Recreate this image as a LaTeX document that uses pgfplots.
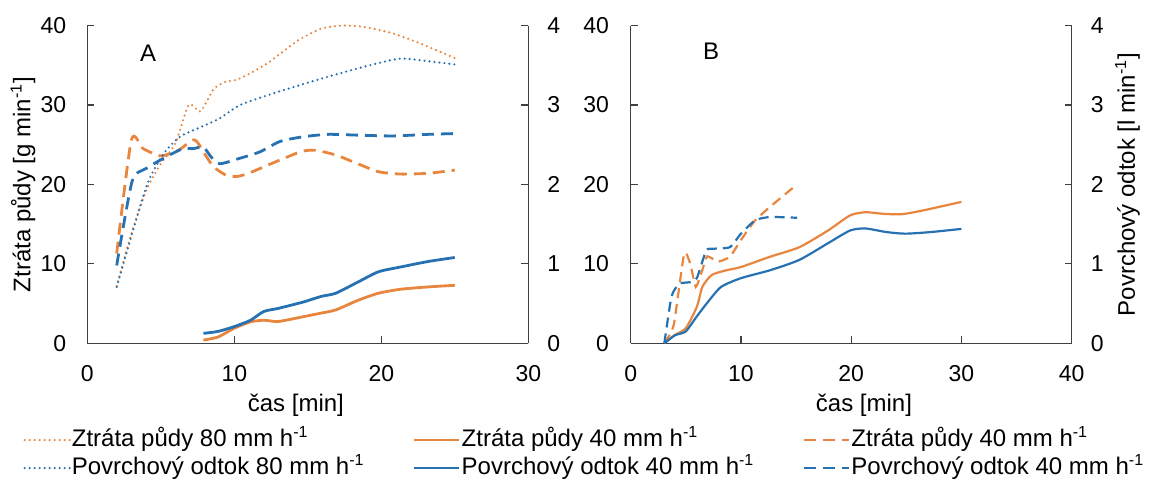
\documentclass[border=0pt]{standalone}
\usepackage{fontspec}
\setmainfont{Liberation Sans}
\usepackage{pgfplots}
\pgfplotsset{compat=1.18}
\definecolor{cor}{RGB}{232,133,62}
\definecolor{cbl}{RGB}{38,113,178}
\pgfplotsset{
  every axis/.append style={
    scale only axis, width=220.5pt, height=158.9pt,
    anchor=south west,
    axis line style={black!75, line width=0.6pt},
    tick style={black!75, line width=0.6pt},
    tick align=inside, major tick length=3.5pt,
    /pgf/number format/assume math mode=true,
    ticklabel style={font=\fontsize{11.5}{13}\selectfont},
    label style={font=\fontsize{12}{14}\selectfont},
    ymin=0,
  },
  sdot/.style={line width=1.2pt, line cap=round, dash pattern=on 0pt off 2.5pt},
  sdashA/.style={line width=1.4pt, dash pattern=on 6pt off 3.5pt},
  sdashB/.style={line width=1.1pt, dash pattern=on 5pt off 3pt},
  ssolA/.style={line width=1.4pt},
  ssolB/.style={line width=1.1pt},
}
\begin{document}
\begin{tikzpicture}
\useasboundingbox (0pt,0pt) rectangle (576pt,242pt);
% ---------------- Panel A, left axis ----------------
\begin{axis}[
  at={(43.65pt,70.35pt)},
  xmin=0, xmax=30, ymax=40,
  xtick={0,10,20,30}, ytick={0,10,20,30,40},
  axis x line*=bottom, axis y line*=left,
  clip=false,
  xticklabel style={yshift=-7.3pt},
  yticklabel style={xshift=-7pt},
  ylabel={Ztráta půdy [g min\textsuperscript{-1}]},
  ylabel style={at={(axis description cs:-0.146,0.5)}, anchor=center},
  xlabel={čas [min]},
  xlabel style={at={(axis description cs:0.473,-0.194)}, anchor=center},
  legend columns=3,
  legend style={at={(axis description cs:-0.1447,-0.2605)}, anchor=north west,
    draw=none, fill=none, inner sep=0pt, outer sep=0pt, row sep=0pt, column sep=0pt,
    nodes={inner xsep=0.5pt, inner ysep=0.75pt, text height=9.5pt, text depth=3pt,
      font=\fontsize{12}{14}\selectfont},
    cells={anchor=west}},
  legend image code/.code={\draw[#1] (0pt,0pt) -- (22.5pt,0pt);},
]
\addlegendimage{cor, sdot}
\addlegendentry{\makebox[170pt][l]{Ztráta půdy 80 mm h\textsuperscript{-1}}}
\addlegendimage{cor, ssolA}
\addlegendentry{\makebox[170pt][l]{Ztráta půdy 40 mm h\textsuperscript{-1}}}
\addlegendimage{cor, sdashA}
\addlegendentry{Ztráta půdy 40 mm h\textsuperscript{-1}}
\addlegendimage{cbl, sdot}
\addlegendentry{\makebox[170pt][l]{Povrchový odtok 80 mm h\textsuperscript{-1}}}
\addlegendimage{cbl, ssolA}
\addlegendentry{\makebox[170pt][l]{Povrchový odtok 40 mm h\textsuperscript{-1}}}
\addlegendimage{cbl, sdashA}
\addlegendentry{Povrchový odtok 40 mm h\textsuperscript{-1}}
% orange dotted: soil loss 80
\addplot[forget plot, cor, sdot, smooth, tension=0.4] coordinates {
(2,7.2)(3,13.8)(4,19.2)(5,22.6)(6,25.2)(6.9,30)(7.7,29.2)(8.6,32)(9.4,32.9)(10.2,33.2)
(11.2,34.1)(12.3,35.3)(13.3,36.7)(14.4,38.2)(15.9,39.6)(17.4,40)(18.9,39.8)(20.8,39)(22.7,37.7)(25,35.9)};
% orange dashed: soil loss 40 (second)
\addplot[forget plot, cor, sdashA, smooth, tension=0.4] coordinates {
(2,11.3)(3,25.6)(3.8,24.5)(5,23.6)(6.2,24.3)(7.3,25.6)(8.1,23.5)(8.6,22.2)(9.4,21.2)(10.2,21)
(11.1,21.5)(12.5,22.6)(14.5,24.1)(15.5,24.3)(16.9,23.7)(18.4,22.6)(19.8,21.6)(21.3,21.3)(23.2,21.4)(25,21.8)};
% orange solid: soil loss 40
\addplot[forget plot, cor, ssolA, smooth, tension=0.4] coordinates {
(7.9,0.4)(8.9,0.8)(10,1.9)(11.1,2.7)(12,2.9)(13,2.75)(14.7,3.35)(15.9,3.8)(16.9,4.2)
(18.4,5.4)(19.8,6.3)(21.3,6.8)(23.2,7.1)(25,7.3)};
\node[font=\fontsize{12}{14}\selectfont] at (axis cs:4.13,36.5) {A};
\end{axis}
% ---------------- Panel A, right axis ----------------
\begin{axis}[
  at={(43.65pt,70.35pt)},
  xmin=0, xmax=30, ymax=4,
  ytick={0,1,2,3,4},
  axis x line=none, axis y line*=right,
  clip=false,
  yticklabel style={xshift=6pt},
]
\addplot[forget plot, cbl, sdot, smooth, tension=0.4] coordinates {
(2,0.71)(3,1.35)(3.8,1.85)(4.3,2.1)(5.2,2.39)(6.3,2.6)(7.7,2.72)(9,2.83)(10.4,3.0)
(12.9,3.16)(15.9,3.33)(18.4,3.46)(20.8,3.57)(21.8,3.58)(25,3.51)};
\addplot[forget plot, cbl, sdashA, smooth, tension=0.4] coordinates {
(2,0.98)(3.05,2.04)(4,2.2)(5.4,2.35)(6.5,2.45)(7.2,2.45)(7.9,2.47)(8.4,2.35)(9,2.26)
(10.4,2.33)(11.75,2.41)(13.1,2.54)(14.7,2.6)(16.4,2.63)(18.4,2.62)(20.8,2.61)(23.2,2.63)(25,2.64)};
\addplot[forget plot, cbl, ssolA, smooth, tension=0.4] coordinates {
(7.9,0.125)(8.9,0.15)(10,0.21)(11.1,0.29)(12,0.4)(13,0.44)(14.7,0.52)(15.9,0.59)(16.9,0.63)
(18.4,0.77)(19.8,0.9)(21.3,0.96)(23.2,1.03)(25,1.08)};
\end{axis}
% ---------------- Panel B, left axis ----------------
\begin{axis}[
  at={(315.35pt,70.35pt)},
  xmin=0, xmax=40, ymax=40,
  xtick={0,10,20,30,40}, ytick={0,10,20,30,40},
  axis x line*=bottom, axis y line*=left,
  clip=false,
  xticklabel style={yshift=-7.3pt},
  yticklabel style={xshift=-7.3pt},
  xlabel={čas [min]},
  xlabel style={at={(axis description cs:0.529,-0.194)}, anchor=center},
]
\addplot[forget plot, cor, ssolB, smooth, tension=0.4] coordinates {
(3.05,0)(4,1.05)(5,1.9)(6,4.6)(6.5,7.1)(7.35,8.6)(8.7,9.2)(10,9.6)(12.65,10.9)(15.3,12.1)
(17.9,14.2)(19.9,16.1)(21.3,16.5)(22.9,16.3)(24.6,16.25)(26.6,16.75)(30,17.8)};
\addplot[forget plot, cor, sdashB, smooth, tension=0.3] coordinates {
(3.05,0)(3.9,2.3)(4.85,11.3)(5.4,10)(5.9,7.1)(6.4,8.8)(6.9,10.9)(7.35,10.7)(8,10.3)(9,10.9)
(10,13)(11.3,15.5)(13,17.6)(15,19.9)};
\node[font=\fontsize{12}{14}\selectfont] at (axis cs:7.3,36.7) {B};
\end{axis}
% ---------------- Panel B, right axis ----------------
\begin{axis}[
  at={(315.35pt,70.35pt)},
  xmin=0, xmax=40, ymax=4,
  ytick={0,1,2,3,4},
  axis x line=none, axis y line*=right,
  clip=false,
  yticklabel style={xshift=6pt},
  ylabel={Povrchový odtok [l min\textsuperscript{-1}]},
  ylabel style={at={(axis description cs:1.1266,0.5)}, anchor=center},
]
\addplot[forget plot, cbl, ssolB, smooth, tension=0.4] coordinates {
(3.05,0)(4,0.1)(5,0.15)(6,0.34)(7,0.52)(8.2,0.71)(10,0.82)(12.65,0.92)(15.3,1.05)
(17.9,1.26)(19.9,1.42)(21.3,1.445)(23.2,1.4)(24.9,1.38)(27.2,1.4)(30,1.44)};
\addplot[forget plot, cbl, sdashB, smooth, tension=0.3] coordinates {
(3.05,0)(3.7,0.59)(4.4,0.75)(5.4,0.77)(6,0.82)(6.85,1.17)(7.5,1.19)(9,1.21)(10,1.38)
(11.3,1.55)(12.65,1.59)(15.1,1.58)};
\end{axis}
\end{tikzpicture}
\end{document}
